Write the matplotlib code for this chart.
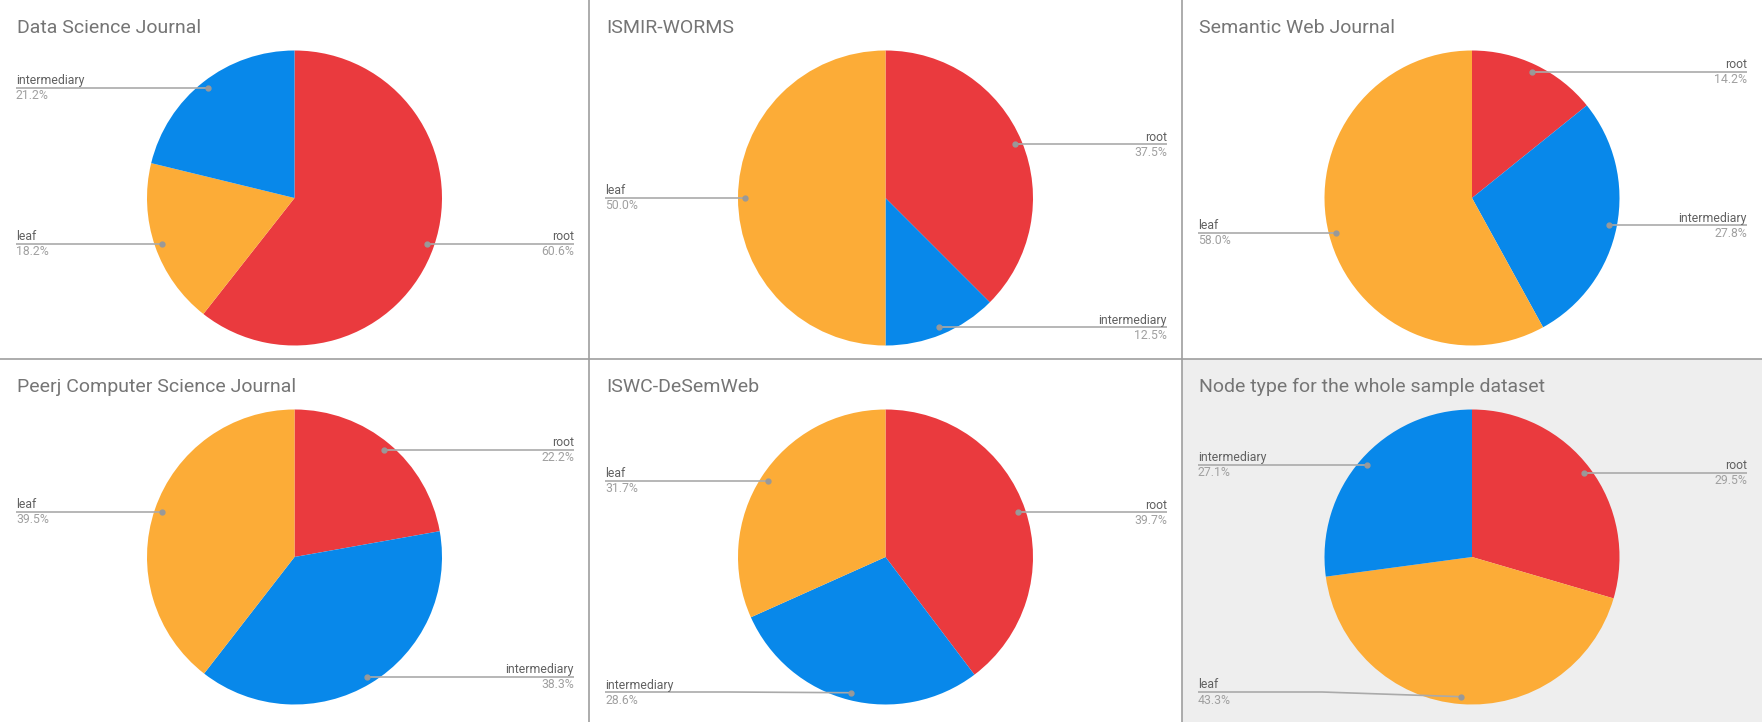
import numpy as np
import matplotlib.pyplot as plt
from matplotlib.lines import Line2D

plt.rcParams['font.family'] = ['Roboto', 'DejaVu Sans']

# Data: one list of labels and values per chart
titles = [
    "Data Science Journal",
    "ISMIR-WORMS",
    "Semantic Web Journal",
    "Peerj Computer Science Journal",
    "ISWC-DeSemWeb",
    "Node type for the whole sample dataset",
]
labels_dsj = ["root", "leaf", "intermediary"]
values_dsj = [60.6, 18.2, 21.2]
labels_ismir = ["root", "intermediary", "leaf"]
values_ismir = [37.5, 12.5, 50.0]
labels_swj = ["root", "intermediary", "leaf"]
values_swj = [14.2, 27.8, 58.0]
labels_peerj = ["root", "intermediary", "leaf"]
values_peerj = [22.2, 38.3, 39.5]
labels_iswc = ["root", "intermediary", "leaf"]
values_iswc = [39.7, 28.6, 31.7]
labels_all = ["root", "leaf", "intermediary"]
values_all = [29.5, 43.3, 27.1]

all_labels = [labels_dsj, labels_ismir, labels_swj, labels_peerj, labels_iswc, labels_all]
all_values = [values_dsj, values_ismir, values_swj, values_peerj, values_iswc, values_all]

colors = {"root": "#ea3a3e", "intermediary": "#0888ea", "leaf": "#fcac37"}

# Figure in pixel units (dpi 100)
W, H = 1762, 722
fig = plt.figure(figsize=(W / 100, H / 100), dpi=100)

cols = [(0, 589), (589, 1182), (1182, 1762)]
rows = [(0, 359), (359, 722)]
radius = 147.5

for i in range(6):
    r, c = divmod(i, 3)
    x0, x1 = cols[c]
    y0, y1 = rows[r]
    w, h = x1 - x0, y1 - y0
    ax = fig.add_axes([x0 / W, 1 - y1 / H, w / W, h / H])
    face = "#eeeeee" if i == 5 else "white"
    ax.set_facecolor(face)

    cx, cy = w / 2, h - 198
    wedges, _ = ax.pie(all_values[i], colors=[colors[l] for l in all_labels[i]],
                       startangle=90, counterclock=False, center=(cx, cy),
                       radius=radius, frame=True, wedgeprops=dict(linewidth=0))
    ax.set_xlim(0, w)
    ax.set_ylim(0, h)
    ax.set_aspect('auto')
    ax.set_xticks([])
    ax.set_yticks([])
    for sp in ax.spines.values():
        sp.set_visible(False)

    ax.text(17, h - 33, titles[i], fontsize=14, color="#757575", va='baseline', ha='left')

    # leader lines and labels
    for wdg, lab, val in zip(wedges, all_labels[i], all_values[i]):
        a = np.radians((wdg.theta1 + wdg.theta2) / 2)
        dx = cx + 0.95 * radius * np.cos(a)
        dy = cy + 0.95 * radius * np.sin(a)
        ly = max(dy, h - 333)
        if np.cos(a) < 0:
            edge, knee, ha = 16, 140, 'left'
        else:
            edge, knee, ha = w - 15, w - 140, 'right'
        ax.plot([dx, knee, edge], [dy, ly, ly], color="#aaaaaa", lw=1.2,
                solid_capstyle='butt', zorder=3)
        ax.plot([dx], [dy], 'o', ms=3.5, color="#999999", zorder=4)
        ax.text(edge, ly + 3.5, lab, fontsize=8.8, color="#616161", ha=ha, va='baseline')
        ax.text(edge, ly - 11.5, f"{val:.1f}%", fontsize=8.8, color="#a0a0a0", ha=ha, va='baseline')

# panel dividers
line_kw = dict(color="#9e9e9e", lw=1.2, transform=fig.transFigure)
fig.add_artist(Line2D([0, 1], [1 - 359 / H, 1 - 359 / H], **line_kw))
fig.add_artist(Line2D([589 / W, 589 / W], [0, 1], **line_kw))
fig.add_artist(Line2D([1182 / W, 1182 / W], [0, 1], **line_kw))

fig.savefig("out.png", dpi=100)
